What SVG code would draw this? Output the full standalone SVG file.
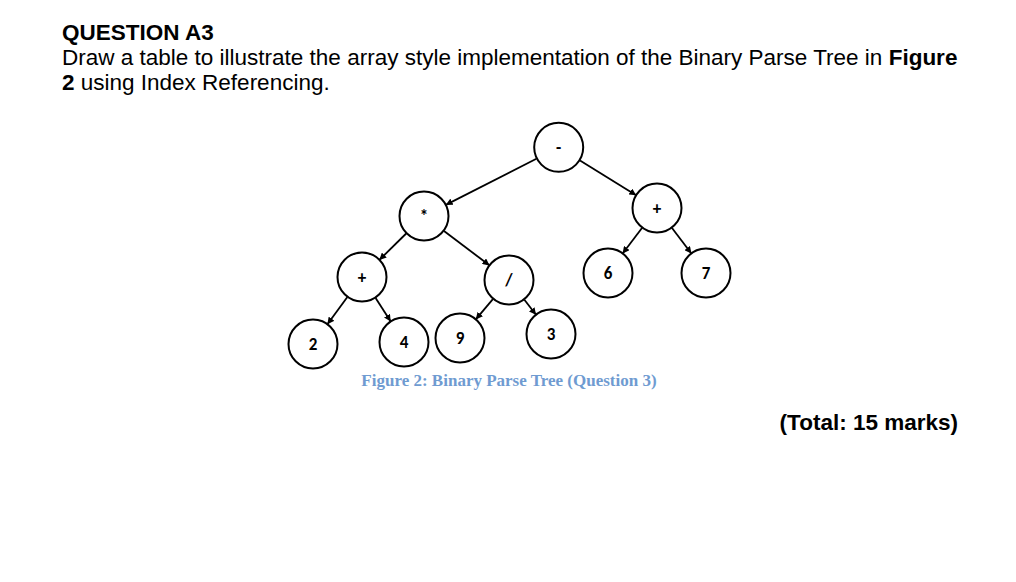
<svg xmlns="http://www.w3.org/2000/svg" width="1016" height="582" viewBox="0 0 1016 582">
<style>
.t{font-family:"Liberation Sans",Arial,sans-serif;font-size:22.5px;fill:#000}
.b{font-weight:bold}
circle{fill:#fff;stroke:#000;stroke-width:2}
.n{font-family:Calibri,"Liberation Sans",sans-serif;font-weight:bold;font-size:17px;text-anchor:middle;fill:#000}
#edges line{stroke:#000;stroke-width:1.8;marker-end:url(#a)}
.cap{font-family:"Liberation Serif","Times New Roman",serif;font-weight:bold;font-size:17px;fill:#6f9bd1;text-anchor:middle}
</style>
<defs><marker id="a" viewBox="0 0 10 10" refX="9" refY="5" markerWidth="7" markerHeight="7" orient="auto" markerUnits="userSpaceOnUse"><path d="M0,0L10,5L0,10z" fill="#000"/></marker></defs>
<rect width="1016" height="582" fill="#fff"/>
<text class="t b" x="62" y="40">QUESTION A3</text>
<text class="t" x="62" y="65">Draw a table to illustrate the array style implementation of the Binary Parse Tree in <tspan class="b">Figure</tspan></text>
<text class="t" x="62" y="90"><tspan class="b">2</tspan> using Index Referencing.</text>
<text class="t b" x="958" y="430" text-anchor="end">(Total: 15 marks)</text>
<g id="edges">
<line x1="536.4" y1="158.7" x2="446.3" y2="204.6"/>
<line x1="580" y1="160.5" x2="635.7" y2="194.9"/>
<line x1="406.2" y1="233.5" x2="379.8" y2="259.5"/>
<line x1="444" y1="231" x2="489" y2="265"/>
<line x1="642" y1="228" x2="623" y2="253"/>
<line x1="672" y1="228" x2="691" y2="253"/>
<line x1="347.2" y1="297.2" x2="327.8" y2="323.8"/>
<line x1="375.6" y1="298" x2="390.4" y2="321"/>
<line x1="492.9" y1="299.1" x2="476.2" y2="318.9"/>
<line x1="524.4" y1="299.7" x2="535.6" y2="314.3"/>
</g>
<g id="n-minus"><circle cx="558.7" cy="147.3" r="24.5"/><text class="n" x="558.7" y="153">-</text></g>
<g id="n-mul"><circle cx="424" cy="216" r="24.5"/><text class="n" x="424" y="222">*</text></g>
<g id="n-plusR"><circle cx="657" cy="208" r="24.5"/><text class="n" x="657" y="214">+</text></g>
<g id="n-plusL"><circle cx="362" cy="277" r="24.5"/><text class="n" x="362" y="283">+</text></g>
<g id="n-div"><circle cx="509" cy="280" r="24.5"/><text class="n" x="509" y="286">/</text></g>
<g id="n-6"><circle cx="608" cy="273" r="24.5"/><text class="n" x="608" y="279">6</text></g>
<g id="n-7"><circle cx="706" cy="273" r="24.5"/><text class="n" x="706" y="279">7</text></g>
<g id="n-2"><circle cx="313" cy="344" r="24.5"/><text class="n" x="313" y="350">2</text></g>
<g id="n-4"><circle cx="404" cy="342" r="24.5"/><text class="n" x="404" y="348">4</text></g>
<g id="n-9"><circle cx="460" cy="338" r="24.5"/><text class="n" x="460" y="344">9</text></g>
<g id="n-3"><circle cx="551" cy="334" r="24.5"/><text class="n" x="551" y="340">3</text></g>
<text class="cap" x="509" y="386">Figure 2: Binary Parse Tree (Question 3)</text>
</svg>
